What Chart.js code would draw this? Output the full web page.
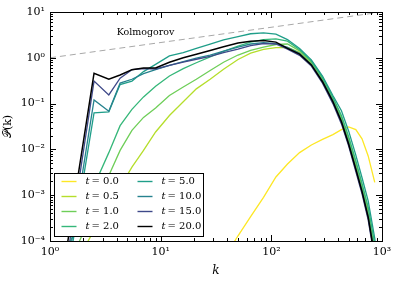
<!DOCTYPE html>
<html>
<head>
<meta charset="utf-8">
<script src="https://cdn.jsdelivr.net/npm/chart.js@4.4.1/dist/chart.umd.min.js"></script>
<style>
  html, body { margin: 0; padding: 0; background: #fff; }
  #wrap { width: 398px; height: 282px; }
</style>
</head>
<body>
<div id="wrap"><canvas id="spectrum" width="398" height="282"></canvas></div>
<script>
// wavenumber bins shared by every curve
const kBins = [1.4, 2.5, 3.4, 4.3, 5.5, 7, 9, 12, 16, 21, 28, 37, 50, 65, 85, 110, 140, 180, 230, 290, 360, 430, 500, 580, 660, 750, 860, 950];

const timeLabels = ['0.0', '0.5', '1.0', '2.0', '5.0', '10.0', '15.0', '20.0'];
const lineColors = ['#fde725', '#b5de2b', '#6ece58', '#35b779', '#1f9e89', '#26828e', '#3e4989', '#000000'];

// P(k), one array per time
const spec_t0  = [null, null, null, null, null, null, null, null, null, null, null, 4e-5, 1.3e-4, 3.4e-4, 9e-4, 0.0025, 0.0048, 0.0085, 0.0125, 0.0165, 0.021, 0.027, 0.031, 0.027, 0.017, 0.0072, 0.0019, null];
const spec_t05 = [1.4e-5, 1.7e-4, 5.5e-4, 0.0015, 0.0041, 0.0095, 0.024, 0.055, 0.11, 0.21, 0.34, 0.56, 0.92, 1.26, 1.52, 1.66, 1.68, 1.32, 0.77, 0.34, 0.125, 0.047, 0.016, 0.0046, 0.0015, 4.4e-4, 6.4e-5, 7e-6];
const spec_t1  = [2.3e-5, 5e-4, 0.0027, 0.0095, 0.026, 0.05, 0.08, 0.15, 0.23, 0.34, 0.53, 0.8, 1.15, 1.45, 1.72, 1.95, 2.0, 1.42, 0.8, 0.35, 0.13, 0.05, 0.017, 0.005, 0.0016, 4.8e-4, 7.2e-5, 8e-6];
const spec_t2  = [6e-5, 0.0016, 0.0085, 0.033, 0.075, 0.14, 0.24, 0.4, 0.58, 0.78, 1.05, 1.38, 1.8, 2.2, 2.5, 2.6, 2.3, 1.5, 0.85, 0.37, 0.138, 0.055, 0.019, 0.0057, 0.0018, 5.5e-4, 8.5e-5, 9e-6];
const spec_t5  = [1.2e-5, 0.063, 0.066, 0.26, 0.31, 0.5, 0.72, 1.1, 1.3, 1.6, 2.0, 2.45, 2.9, 3.35, 3.5, 3.3, 2.5, 1.6, 0.9, 0.4, 0.15, 0.07, 0.025, 0.0075, 0.0024, 7.5e-4, 1.15e-4, 1.2e-5];
const spec_t10 = [1.7e-5, 0.12, 0.068, 0.28, 0.34, 0.45, 0.55, 0.68, 0.82, 0.98, 1.15, 1.4, 1.7, 2.0, 2.15, 2.05, 1.7, 1.25, 0.72, 0.31, 0.115, 0.042, 0.0138, 0.0039, 0.00127, 3.5e-4, 4.9e-5, 5e-6];
const spec_t15 = [3e-5, 0.31, 0.155, 0.36, 0.55, 0.58, 0.57, 0.68, 0.8, 0.93, 1.08, 1.3, 1.55, 1.85, 2.05, 2.0, 1.55, 1.13, 0.66, 0.28, 0.1, 0.036, 0.0118, 0.0033, 0.00107, 2.9e-4, 3.9e-5, 4e-6];
const spec_t20 = [5.8e-5, 0.46, 0.34, 0.42, 0.55, 0.6, 0.6, 0.8, 1.0, 1.2, 1.45, 1.75, 2.1, 2.3, 2.4, 2.2, 1.6, 1.2, 0.7, 0.3, 0.11, 0.04, 0.013, 0.0037, 0.0012, 3.3e-4, 4.5e-5, 5e-6];

// Kolmogorov reference line (k^1/3)
const kolmoK = [1, 1000];
const kolmoP = [1, 10];

// tick labels
const xDecades = [1, 10, 100, 1000];
const yDecades = [1e-4, 1e-3, 1e-2, 1e-1, 1, 10];

const allSpectra = [spec_t0, spec_t05, spec_t1, spec_t2, spec_t5, spec_t10, spec_t15, spec_t20];

const SERIF = "'DejaVu Serif', serif";

const supMap = { '-': '\u207B', '0': '\u2070', '1': '\u00B9', '2': '\u00B2', '3': '\u00B3', '4': '\u2074' };
function decadeLabel(v) {
    const e = Math.round(Math.log10(v));
    return '10' + String(e).split('').map(c => supMap[c]).join('');
}

// inward ticks on all four sides + black frame, matplotlib style
const frameTicks = {
    id: 'frameTicks',
    afterDatasetsDraw(chart) {
        const { ctx, chartArea: a, scales: { x, y } } = chart;
        ctx.save();
        ctx.strokeStyle = '#000';
        ctx.lineWidth = 1;
        ctx.beginPath();
        for (let d = 0; d < 3; d++) {
            for (let m = 1; m < 10; m++) {
                const px = Math.round(x.getPixelForValue(m * Math.pow(10, d))) + 0.5;
                const len = m === 1 ? 6 : 3;
                ctx.moveTo(px, a.bottom); ctx.lineTo(px, a.bottom - len);
                ctx.moveTo(px, a.top); ctx.lineTo(px, a.top + len);
            }
        }
        for (let d = -4; d < 1; d++) {
            for (let m = 1; m < 10; m++) {
                const py = Math.round(y.getPixelForValue(m * Math.pow(10, d))) + 0.5;
                const len = m === 1 ? 6 : 3;
                ctx.moveTo(a.left, py); ctx.lineTo(a.left + len, py);
                ctx.moveTo(a.right, py); ctx.lineTo(a.right - len, py);
            }
        }
        ctx.stroke();
        ctx.strokeRect(Math.round(a.left) + 0.5, Math.round(a.top) + 0.5,
                       Math.round(a.right - a.left), Math.round(a.bottom - a.top));

        // Kolmogorov annotation
        ctx.fillStyle = '#000';
        ctx.font = '9.5px ' + SERIF;
        ctx.textBaseline = 'middle';
        ctx.textAlign = 'left';
        ctx.fillText('Kolmogorov', x.getPixelForValue(4.0), y.getPixelForValue(3.5));
        ctx.restore();
    }
};

// two column legend in the lower left corner of the axes
const cornerLegend = {
    id: 'cornerLegend',
    afterDatasetsDraw(chart) {
        const { ctx, chartArea: a } = chart;
        const bx = Math.round(a.left) + 4.5, bw = 149;
        const bh = 63, by = Math.round(a.bottom) - 4.5 - bh;
        ctx.save();
        ctx.fillStyle = '#fff';
        ctx.fillRect(bx, by, bw, bh);
        ctx.strokeStyle = '#000';
        ctx.lineWidth = 1;
        ctx.strokeRect(bx, by, bw, bh);

        const sets = chart.data.datasets.filter(ds => ds.isSpectrum);
        sets.forEach((ds, i) => {
            const col = Math.floor(i / 4), row = i % 4;
            const lx = bx + 7 + col * 76;
            const ly = by + 8 + row * 15;
            ctx.strokeStyle = ds.borderColor;
            ctx.lineWidth = 1.4;
            ctx.beginPath();
            ctx.moveTo(lx, ly); ctx.lineTo(lx + 15, ly);
            ctx.stroke();
            ctx.fillStyle = '#000';
            ctx.textBaseline = 'middle';
            ctx.textAlign = 'left';
            ctx.font = 'italic 10px ' + SERIF;
            ctx.fillText('t', lx + 24, ly);
            const tw = ctx.measureText('t').width;
            ctx.font = '10px ' + SERIF;
            ctx.fillText('= ' + ds.timeLabel, lx + 24 + tw + 2, ly);
        });
        ctx.restore();
    }
};

const datasets = allSpectra.map((vals, i) => ({
    label: 't = ' + timeLabels[i],
    timeLabel: timeLabels[i],
    isSpectrum: true,
    data: kBins.map((k, j) => ({ x: k, y: vals[j] })),
    borderColor: lineColors[i],
    borderWidth: i === allSpectra.length - 1 ? 1.5 : 1.3,
    pointRadius: 0,
    tension: 0,
    fill: false,
    spanGaps: false,
    clip: 0,
    order: allSpectra.length - i      // last time drawn on top
}));

datasets.push({
    label: 'Kolmogorov',
    data: kolmoK.map((k, j) => ({ x: k, y: kolmoP[j] })),
    borderColor: '#a8a8a8',
    borderWidth: 1,
    borderDash: [6, 4],
    pointRadius: 0,
    fill: false,
    clip: 0,
    order: 20
});

new Chart(document.getElementById('spectrum'), {
    type: 'line',
    data: { datasets: datasets },
    plugins: [frameTicks, cornerLegend],
    options: {
        responsive: false,
        animation: false,
        devicePixelRatio: 1,
        layout: { padding: { top: 12, right: 16, left: 0, bottom: 0 } },
        plugins: { legend: { display: false }, tooltip: { enabled: false } },
        scales: {
            x: {
                type: 'logarithmic',
                min: 1, max: 1000,
                grid: { display: false, drawTicks: false },
                border: { display: false },
                afterBuildTicks: (s) => { s.ticks = xDecades.map(v => ({ value: v })); },
                afterFit: (s) => { s.height = 41; },
                ticks: {
                    color: '#000', padding: 5, maxRotation: 0,
                    font: { family: SERIF, size: 11 },
                    callback: (v) => decadeLabel(v)
                },
                title: {
                    display: true, text: 'k', color: '#000',
                    font: { family: SERIF, size: 12, style: 'italic' },
                    padding: { top: 0, bottom: 4 }
                }
            },
            y: {
                type: 'logarithmic',
                min: 1e-4, max: 10,
                grid: { display: false, drawTicks: false },
                border: { display: false },
                afterBuildTicks: (s) => { s.ticks = yDecades.map(v => ({ value: v })); },
                afterFit: (s) => { s.width = 50; },
                ticks: {
                    color: '#000', padding: 5,
                    font: { family: SERIF, size: 11 },
                    callback: (v) => decadeLabel(v)
                },
                title: {
                    display: true, text: '\uD835\uDCAB(k)', color: '#000',
                    font: { family: SERIF, size: 11 },
                    padding: { top: 2, bottom: 0 }
                }
            }
        }
    }
});
</script>
</body>
</html>
